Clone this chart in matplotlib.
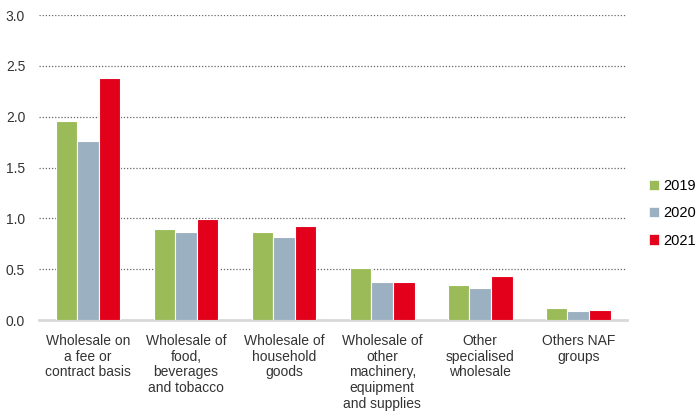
import numpy as np
import matplotlib.pyplot as plt
from matplotlib.patches import Patch

plt.rcParams['font.family'] = ['Liberation Sans', 'DejaVu Sans']

# categories and values
categories = ['Wholesale on\na fee or\ncontract basis',
              'Wholesale of\nfood,\nbeverages\nand tobacco',
              'Wholesale of\nhousehold\ngoods',
              'Wholesale of\nother\nmachinery,\nequipment\nand supplies',
              'Other\nspecialised\nwholesale',
              'Others NAF\ngroups']
years = ['2019', '2020', '2021']
v2019 = [1.96, 0.90, 0.87, 0.51, 0.35, 0.12]
v2020 = [1.76, 0.87, 0.82, 0.37, 0.32, 0.09]
v2021 = [2.38, 0.99, 0.93, 0.37, 0.43, 0.10]
colors = ['#9bbb59', '#9bb0c1', '#e3001b']

fig = plt.figure(figsize=(6.97, 4.19), dpi=100)
ax = fig.add_axes([0.056, 0.236, 0.844, 0.728])

x = np.arange(len(categories))
w = 0.22
for i, vals in enumerate([v2019, v2020, v2021]):
    ax.bar(x + (i - 1) * w, vals, width=w, color=colors[i],
           edgecolor='white', linewidth=0.8, zorder=3)

ax.set_xlim(-0.5, len(categories) - 0.5)
ax.set_ylim(0, 3.0)
ax.set_yticks(np.arange(0, 3.01, 0.5))
ax.set_yticklabels(['%.1f' % v for v in np.arange(0, 3.01, 0.5)])
ax.yaxis.grid(True, linestyle=(0, (1, 1.5)), color='#666666', linewidth=0.9)
ax.set_axisbelow(True)
ax.set_xticks(x)
ax.set_xticklabels(categories, fontsize=10, linespacing=1.15, color='#222222')
ax.tick_params(axis='both', length=0, colors='#333333', labelsize=10)
ax.tick_params(axis='x', pad=10)
ax.tick_params(axis='y', pad=10)
for s in ['top', 'right', 'left']:
    ax.spines[s].set_visible(False)
ax.spines['bottom'].set_color('#d9d9d9')
ax.spines['bottom'].set_linewidth(2)

handles = [Patch(facecolor=c, edgecolor='white', linewidth=0.5) for c in colors]
fig.legend(handles, years, loc='upper left', bbox_to_anchor=(0.931, 0.572),
           frameon=False, handlelength=0.7, handleheight=0.7, handletextpad=0.3,
           labelspacing=0.9, fontsize=10.5, borderaxespad=0, borderpad=0)

fig.savefig('out.png', dpi=100)
